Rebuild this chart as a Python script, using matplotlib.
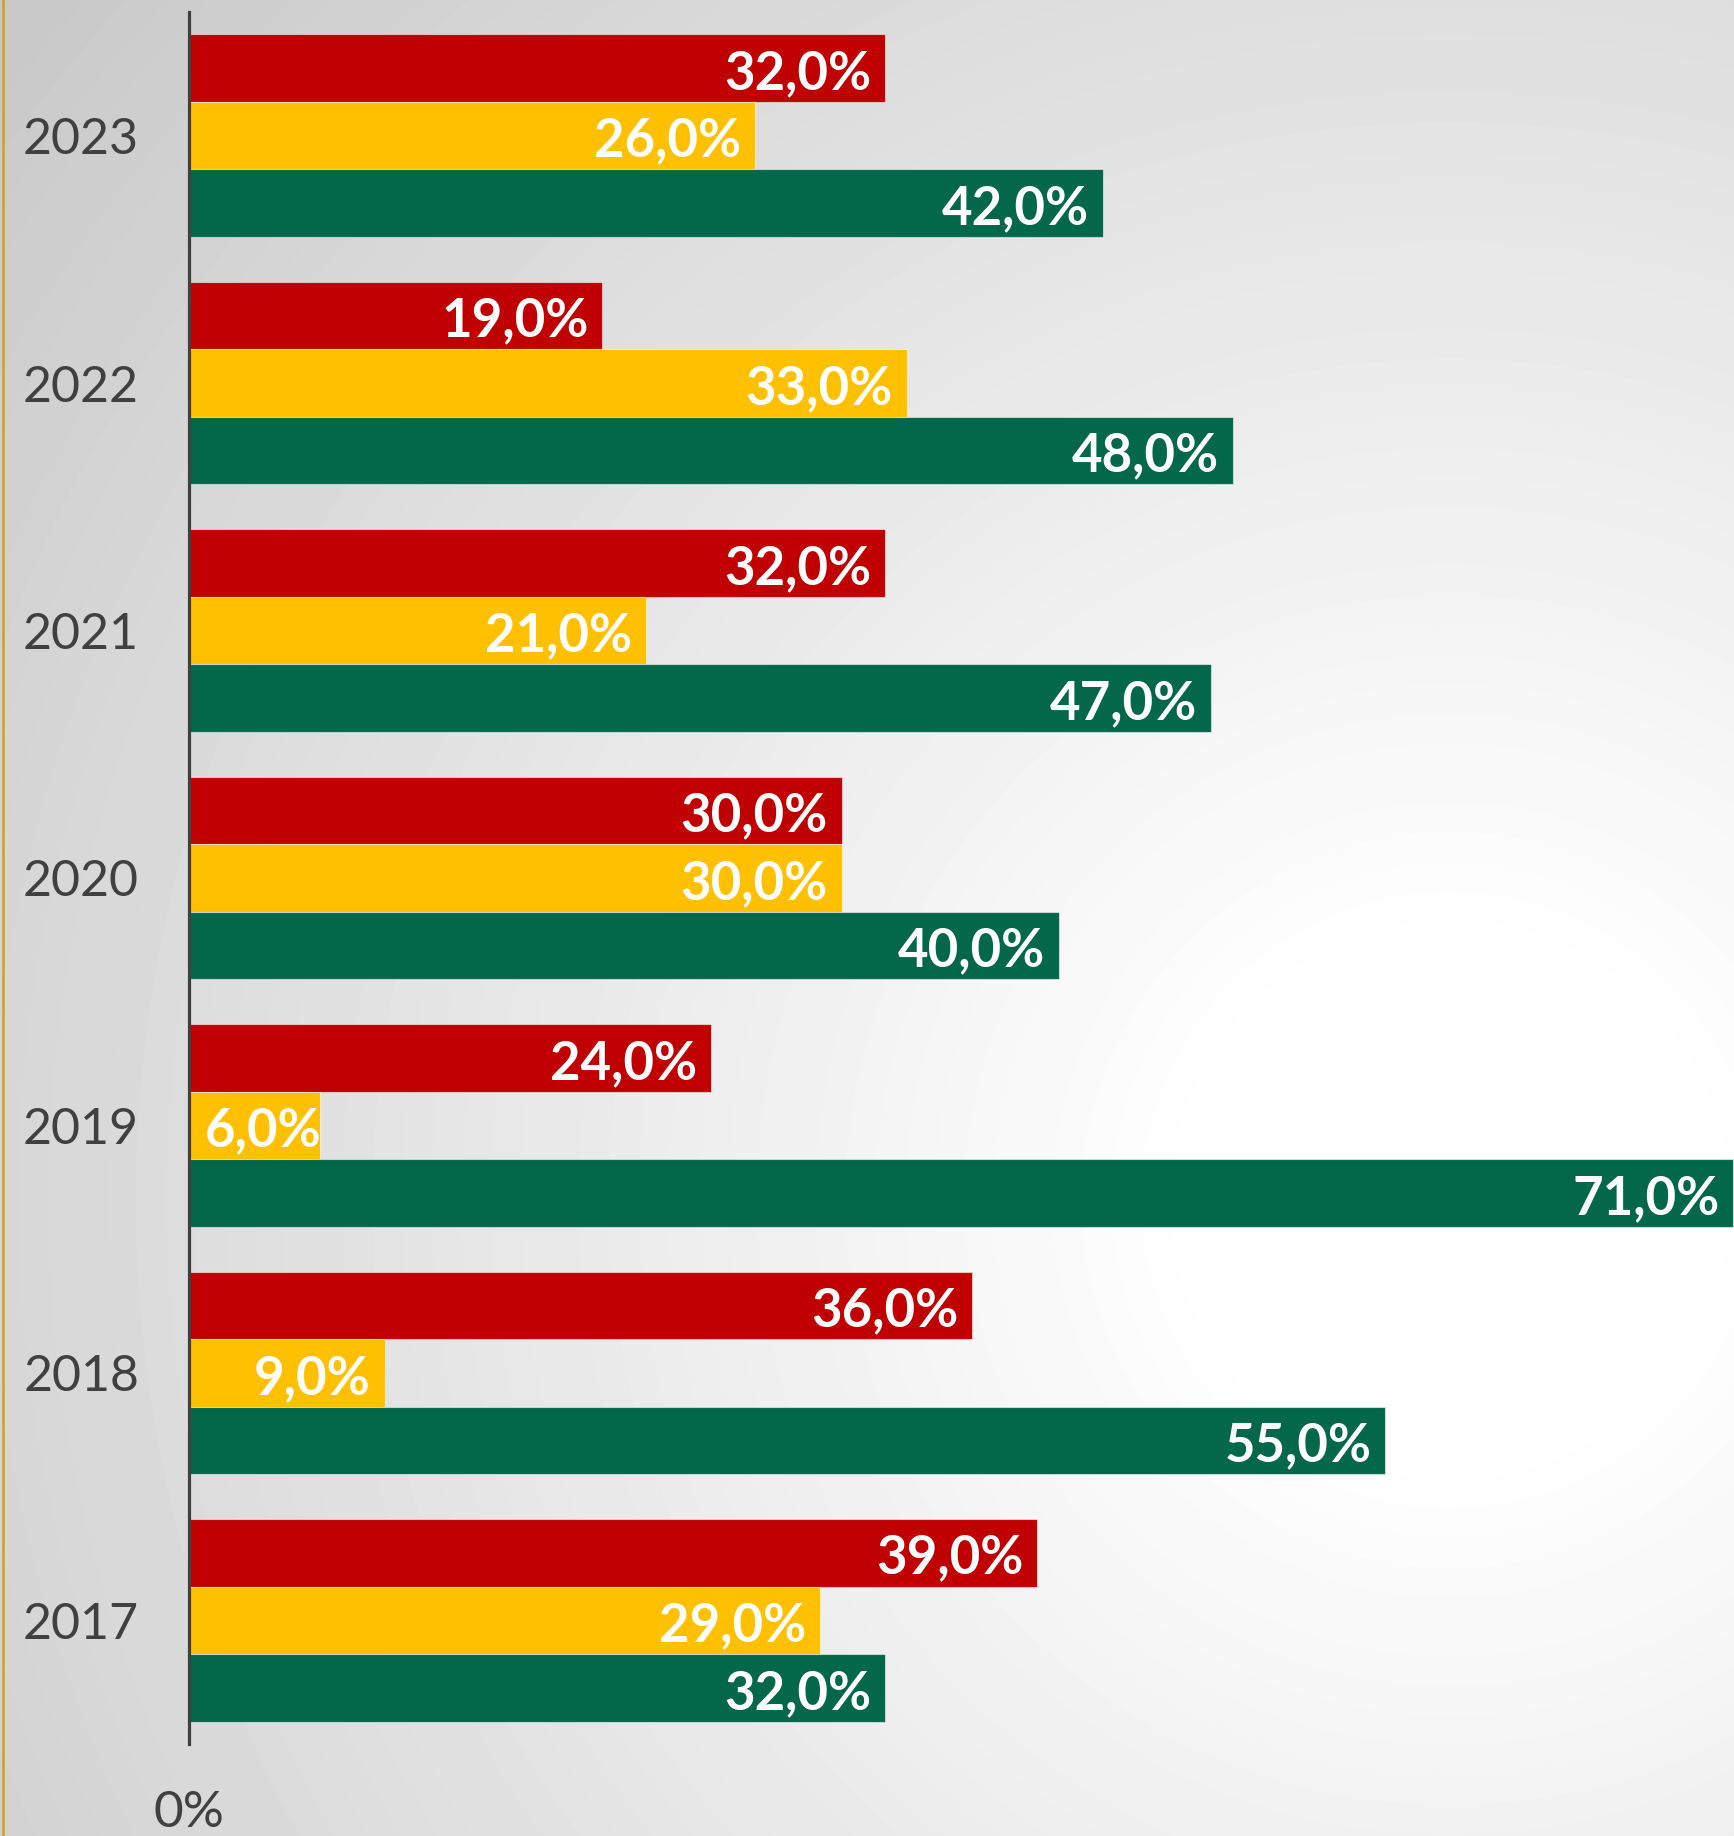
import numpy as np
import matplotlib.pyplot as plt
from matplotlib.lines import Line2D

# data
years = ['2017', '2018', '2019', '2020', '2021', '2022', '2023']
red_vals = [39, 36, 24, 30, 32, 19, 32]
yellow_vals = [29, 9, 6, 30, 21, 33, 26]
green_vals = [32, 55, 71, 40, 47, 48, 42]

W, H = 1734, 1836
fig = plt.figure(figsize=(W / 100, H / 100), dpi=100)

# radial grey -> white background
yy, xx = np.mgrid[0:H, 0:W]
r = np.hypot(xx - 1450, yy - 1200)
bg = 255 - 55 * np.clip(r - 250, 0, None) / 1632
bg = np.clip(bg, 190, 255) / 255
bg_ax = fig.add_axes([0, 0, 1, 1], zorder=0)
bg_ax.imshow(bg, cmap='gray', vmin=0, vmax=1, aspect='auto', interpolation='bilinear')
bg_ax.axis('off')

# thin gold line on the left edge
fig.add_artist(Line2D([2.5 / W, 2.5 / W], [0, 1], color='#D4A017', lw=1.8, zorder=5))

ax = fig.add_axes([189 / W, 92 / H, 1 - 189 / W, 1732 / H], zorder=1)
ax.set_facecolor('none')

y = np.arange(len(years))
h = 0.273
colors = {'red': '#C00000', 'yellow': '#FFC000', 'green': '#03674A'}
edge = (1, 1, 1, 0.55)
for vals, off, c in [(red_vals, h, colors['red']),
                     (yellow_vals, 0, colors['yellow']),
                     (green_vals, -h, colors['green'])]:
    ax.barh(y + off, vals, height=h, color=c, edgecolor=edge, linewidth=0.8, zorder=2)
    for yi, v in zip(y, vals):
        txt = f'{v:.1f}%'.replace('.', ',')
        if v < 8:
            ax.annotate(txt, (0, yi + off), xytext=(11, -4), textcoords='offset points',
                        ha='left', va='center', color='white', fontsize=38,
                        fontweight='bold', family='Lato', zorder=3)
        else:
            ax.annotate(txt, (v, yi + off), xytext=(-10, -4), textcoords='offset points',
                        ha='right', va='center', color='white', fontsize=38,
                        fontweight='bold', family='Lato', zorder=3)

ax.set_xlim(0, 71.03)
ax.set_ylim(-0.5, 6.5)
ax.set_yticks(y)
ax.set_yticklabels(years, fontsize=36, color='#404040', family='Lato')
ax.set_xticks([0])
ax.set_xticklabels(['0%'], fontsize=37, color='#404040', family='Lato')
ax.tick_params(axis='y', length=0, pad=36)
ax.tick_params(axis='x', length=0, pad=33)
for lbl in ax.get_yticklabels():
    lbl.set_y(lbl.get_position()[1])
for s in ['top', 'right', 'bottom']:
    ax.spines[s].set_visible(False)
ax.spines['left'].set_color('#404040')
ax.spines['left'].set_linewidth(2.3)
ax.spines['left'].set_zorder(4)

fig.savefig('out.png', dpi=100)
